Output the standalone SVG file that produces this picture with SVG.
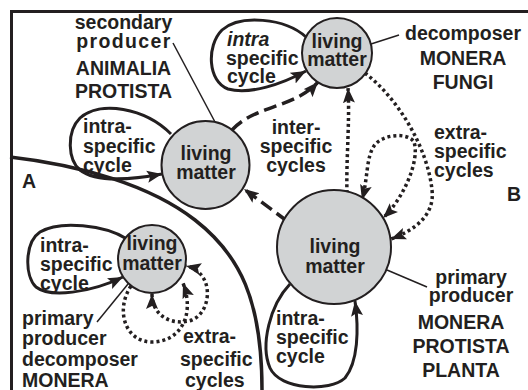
<svg xmlns="http://www.w3.org/2000/svg" width="528" height="390" viewBox="0 0 528 390">
<defs>
<style>
text{font-family:"Liberation Sans",Arial,Helvetica,sans-serif;font-weight:bold;font-size:19.5px;fill:#231f20}
.m{text-anchor:middle}
.it{font-style:italic}
.ln{fill:none;stroke:#231f20;stroke-width:3}
.thin{fill:none;stroke:#231f20;stroke-width:1.5}
.dash{fill:none;stroke:#231f20;stroke-width:3.5;stroke-dasharray:13 6}
.dot{fill:none;stroke:#231f20;stroke-width:3.5;stroke-dasharray:3 3}
.node circle{fill:#d1d3d4;stroke:#231f20;stroke-width:2}
</style>
<marker id="ah" markerUnits="userSpaceOnUse" markerWidth="16" markerHeight="13" refX="15" refY="6" orient="auto-start-reverse" viewBox="0 0 16 12">
<path d="M0,0 L15,6 L0,12 L3,6 z" fill="#231f20"/>
</marker>
</defs>
<rect width="528" height="390" fill="#fff"/>
<g id="frame">
<path d="M11.5,390 V11.5 H528" fill="none" stroke="#231f20" stroke-width="3"/>
<path d="M10,157 C80,165 150,185 195,220 C240,255 262,300 262,390" fill="none" stroke="#231f20" stroke-width="3.5"/>
<text x="22" y="188">A</text>
<text x="507" y="201">B</text>
</g>
<g id="connectors">
<path class="thin" d="M173,43 L215,122"/>
<path class="thin" d="M371,44 L399,35"/>
<path class="thin" d="M387,270 L427,287"/>
<path class="thin" d="M97,322 L128,284"/>
<path class="ln" d="M171,134 C145,108 100,100 80,118 C66,132 68,160 80,170 C95,182 130,180 162,174" marker-end="url(#ah)"/>
<path class="ln" d="M306,37 C285,18 240,14 222,30 C206,46 208,82 228,89 C250,95 282,84 306,71" marker-end="url(#ah)"/>
<path class="ln" d="M290,284 C270,305 260,345 270,368 C280,390 330,392 345,378 C358,362 359,330 355,301" marker-end="url(#ah)"/>
<path class="ln" d="M127,239 C105,225 60,220 40,232 C25,242 24,275 36,287 C50,298 90,293 123,277" marker-end="url(#ah)"/>
<path class="dash" d="M232,130 C255,105 295,108 318,82" marker-end="url(#ah)"/>
<path class="dash" d="M287,221 L244,189" marker-end="url(#ah)"/>
<path class="dot" d="M347,193 C346,160 350,120 348,88" marker-end="url(#ah)"/>
<path class="dot" d="M365,73 C400,100 428,150 432,190 C435,215 415,230 391,239" marker-end="url(#ah)"/>
<path class="dot" d="M362,200 C368,178 366,158 374,146 C382,134 408,132 414,142 C420,160 404,198 383,218" marker-start="url(#ah)" marker-end="url(#ah)"/>
<path class="dot" d="M131,286 C115,310 125,342 152,342 C178,342 196,318 183,283" marker-end="url(#ah)"/>
<path class="dot" d="M152,294 C152,318 175,326 192,320 C212,312 215,272 186,266" marker-start="url(#ah)" marker-end="url(#ah)"/>
</g>
<g id="n1" class="node">
<circle cx="205.5" cy="165" r="44"/>
<text class="m" x="206" y="160">living</text>
<text class="m" x="206" y="179">matter</text>
</g>
<g id="n2" class="node">
<circle cx="337" cy="53" r="35"/>
<text class="m" x="337" y="48">living</text>
<text class="m" x="337" y="66">matter</text>
</g>
<g id="n3" class="node">
<circle cx="334" cy="247" r="57"/>
<text class="m" x="335" y="253">living</text>
<text class="m" x="335" y="273">matter</text>
</g>
<g id="n4" class="node">
<circle cx="152" cy="259" r="34"/>
<text class="m" x="152" y="250">living</text>
<text class="m" x="152" y="270">matter</text>
</g>
<g id="labels">
<text class="m" x="123.5" y="29">secondary</text>
<text class="m" x="124" y="48" letter-spacing="1.4">producer</text>
<text class="m" x="123.5" y="75">ANIMALIA</text>
<text class="m" x="123.5" y="98">PROTISTA</text>
<text x="83" y="133">intra-</text>
<text x="83" y="153">specific</text>
<text x="83" y="172">cycle</text>
<text class="it" x="227" y="46">intra</text>
<text x="226" y="65">specific</text>
<text x="227" y="83">cycle</text>
<text class="m" x="463" y="40">decomposer</text>
<text class="m" x="463" y="65">MONERA</text>
<text class="m" x="463" y="89">FUNGI</text>
<text class="m" x="296" y="134">inter-</text>
<text class="m" x="296" y="153">specific</text>
<text class="m" x="296" y="172">cycles</text>
<text x="434" y="139">extra-</text>
<text x="434" y="158">specific</text>
<text x="434" y="177">cycles</text>
<text x="40" y="252">intra-</text>
<text x="40" y="271">specific</text>
<text x="40" y="290">cycle</text>
<text x="22" y="325">primary</text>
<text x="22" y="345">producer</text>
<text x="22" y="366">decomposer</text>
<text x="22" y="387">MONERA</text>
<text x="183" y="343">extra-</text>
<text x="180" y="366">specific</text>
<text x="185" y="387">cycles</text>
<text x="276" y="325">intra-</text>
<text x="276" y="344">specific</text>
<text x="276" y="363">cycle</text>
<text class="m" x="471" y="284">primary</text>
<text class="m" x="471" y="302">producer</text>
<text class="m" x="461" y="329">MONERA</text>
<text class="m" x="461" y="353">PROTISTA</text>
<text class="m" x="461" y="377">PLANTA</text>
</g>
</svg>
